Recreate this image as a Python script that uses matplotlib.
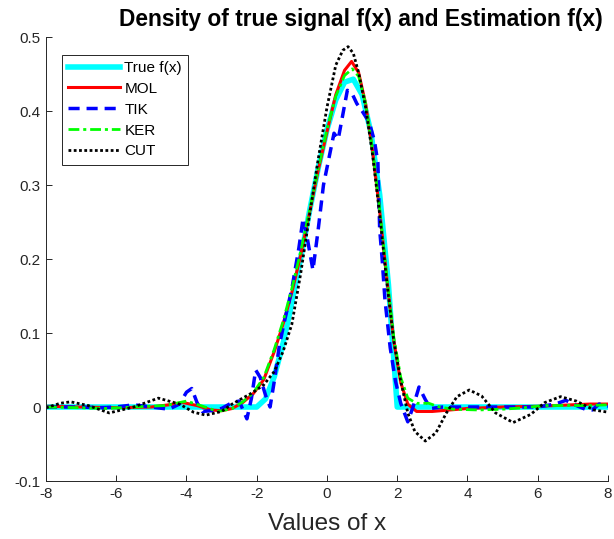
import matplotlib
matplotlib.use("Agg")
import matplotlib.pyplot as plt

# True f(x): compact support on [-2, 2]
true_x = [-8, -2, -1.75, -1.5, -1.25, -1.0, -0.75, -0.5, -0.25, 0, 0.25, 0.5,
          0.75, 1.0, 1.25, 1.5, 1.75, 2.0, 8]
true_y = [0, 0, 0.011, 0.041, 0.086, 0.141, 0.201, 0.264, 0.323, 0.375, 0.415,
          0.439, 0.443, 0.422, 0.371, 0.287, 0.165, 0, 0]

# MOL estimate
mol_x = [-8, -7, -6, -5, -4.5, -4.1, -3.7, -3.3, -3.0, -2.7, -2.4, -2.1, -1.8,
         -1.5, -1.25, -1.0, -0.75, -0.5, -0.25, 0, 0.25, 0.5, 0.7, 0.9, 1.1,
         1.3, 1.5, 1.7, 1.9, 2.1, 2.3, 2.55, 3.0, 3.5, 4.0, 5, 6, 7, 7.5, 8]
mol_y = [0.001, 0.0, -0.001, 0.0, 0.003, 0.006, 0.002, -0.004, -0.005, -0.002,
         0.006, 0.018, 0.037, 0.075, 0.112, 0.155, 0.205, 0.262, 0.32, 0.372,
         0.422, 0.455, 0.467, 0.452, 0.41, 0.345, 0.265, 0.175, 0.09, 0.033,
         0.004, -0.006, -0.006, -0.004, -0.002, 0.0, 0.001, 0.003, 0.004, 0.004]

# TIK estimate
tik_x = [-8, -7, -6.5, -6, -5.5, -5.0, -4.5, -4.2, -4.0, -3.85, -3.7, -3.55,
         -3.3, -3.0, -2.7, -2.5, -2.38, -2.28, -2.15, -2.03, -1.9, -1.75, -1.62,
         -1.5, -1.35, -1.2, -1.0, -0.8, -0.68, -0.55, -0.4, -0.25, -0.1, 0.05,
         0.2, 0.32, 0.45, 0.58, 0.7, 0.85, 1.0, 1.2, 1.35, 1.45, 1.5, 1.57,
         1.65, 1.8, 1.95, 2.1, 2.3, 2.45, 2.62, 2.8, 2.95, 3.3, 4, 5, 6, 6.5,
         6.8, 7.05, 7.35, 7.55, 7.75, 8]
tik_y = [0.0, 0.0, -0.001, 0.0, 0.003, 0.0, -0.003, 0.004, 0.02, 0.025, 0.006,
         -0.006, -0.005, -0.002, 0.006, 0.008, -0.005, -0.016, 0.012, 0.05,
         0.04, 0.016, 0.0, 0.035, 0.085, 0.118, 0.16, 0.215, 0.255, 0.225,
         0.185, 0.24, 0.3, 0.335, 0.37, 0.362, 0.395, 0.428, 0.425, 0.41, 0.40,
         0.385, 0.36, 0.33, 0.24, 0.2, 0.145, 0.08, 0.035, 0.005, -0.02, 0.0,
         0.027, 0.01, -0.002, 0.0, 0.0, 0.0, 0.0, 0.004, 0.009, 0.003, -0.003,
         -0.004, 0.004, 0.001]

# KER estimate
ker_x = [-8, -7, -6.3, -5.5, -4.6, -4.0, -3.6, -3.1, -2.7, -2.4, -2.1, -1.8,
         -1.5, -1.25, -1.0, -0.75, -0.5, -0.25, 0, 0.25, 0.5, 0.72, 0.9, 1.1,
         1.3, 1.5, 1.7, 1.9, 2.1, 2.3, 2.55, 2.9, 3.2, 3.6, 4.3, 5.0, 5.6, 6.2,
         7.0, 7.5, 8]
ker_y = [0.0, -0.001, -0.002, 0.0, 0.002, 0.008, 0.002, -0.006, -0.002, 0.007,
         0.019, 0.04, 0.078, 0.116, 0.16, 0.21, 0.265, 0.322, 0.375, 0.42,
         0.448, 0.457, 0.447, 0.41, 0.347, 0.267, 0.178, 0.095, 0.04, 0.012,
         0.005, 0.005, 0.0, -0.003, -0.004, -0.003, -0.001, 0.002, 0.002,
         0.002, 0.003]

# CUT estimate
cut_x = [-8, -7.6, -7.3, -6.8, -6.2, -5.5, -4.8, -4.2, -3.8, -3.45, -3.0, -2.7,
         -2.4, -2.1, -1.8, -1.5, -1.25, -1.0, -0.75, -0.5, -0.25, 0, 0.25, 0.45,
         0.6, 0.75, 0.9, 1.1, 1.3, 1.5, 1.7, 1.9, 2.1, 2.3, 2.5, 2.8, 3.1, 3.4,
         3.7, 4.05, 4.4, 4.8, 5.3, 5.8, 6.2, 6.65, 7.1, 7.6, 8]
cut_y = [-0.001, 0.005, 0.007, 0.002, -0.008, 0.0, 0.012, 0.004, -0.007,
         -0.011, -0.006, 0.004, 0.012, 0.02, 0.03, 0.048, 0.075, 0.112, 0.18,
         0.258, 0.335, 0.405, 0.462, 0.482, 0.487, 0.478, 0.452, 0.405, 0.34,
         0.26, 0.17, 0.09, 0.035, -0.008, -0.033, -0.046, -0.035, -0.008, 0.014,
         0.023, 0.015, -0.008, -0.021, -0.01, 0.006, 0.014, 0.008, -0.004,
         -0.007]

x_ticks = [-8, -6, -4, -2, 0, 2, 4, 6, 8]
y_ticks = [-0.1, 0, 0.1, 0.2, 0.3, 0.4, 0.5]
y_tick_labels = ["-0.1", "0", "0.1", "0.2", "0.3", "0.4", "0.5"]

plt.rcParams["font.family"] = ["Liberation Sans", "DejaVu Sans"]

fig = plt.figure(figsize=(6.14, 5.39), dpi=100)
ax = fig.add_axes([0.0749, 0.1076, 0.9153, 0.8237])

ax.plot(true_x, true_y, color="#00FFFF", linewidth=4.0, label="True f(x)")
ax.plot(mol_x, mol_y, color="#FF0000", linewidth=2.2, label="MOL")
ax.plot(tik_x, tik_y, color="#0000FF", linewidth=2.5,
        linestyle=(0, (3.2, 2.0)), label="TIK")
ax.plot(ker_x, ker_y, color="#00FF00", linewidth=2.0,
        linestyle=(0, (3.9, 1.4, 1.1, 1.4)), label="KER")
ax.plot(cut_x, cut_y, color="black", linewidth=2.0,
        linestyle=(0, (1.0, 0.9)), label="CUT")

ax.set_xlim(-8, 8)
ax.set_ylim(-0.1, 0.5)
ax.set_xticks(x_ticks)
ax.set_xticklabels([str(v) for v in x_ticks])
ax.set_yticks(y_ticks)
ax.set_yticklabels(y_tick_labels)

for side in ("top", "right"):
    ax.spines[side].set_visible(False)
for side in ("left", "bottom"):
    ax.spines[side].set_color("#262626")
    ax.spines[side].set_linewidth(0.7)
ax.tick_params(direction="in", length=4, width=0.7, colors="#262626",
               labelsize=11, pad=4)

ax.set_xlabel("Values of x", fontsize=17.5, color="#262626", labelpad=9)
ax.text(0.56, 1.013, "Density of true signal f(x) and Estimation f(x)",
        transform=ax.transAxes, ha="center", va="bottom",
        fontsize=16.4, fontweight="bold")

leg = ax.legend(loc="upper left", bbox_to_anchor=(0.028, 0.96),
                borderaxespad=0, fontsize=11, handlelength=3.4,
                handletextpad=0.3, labelspacing=0.45, fancybox=False,
                framealpha=1, borderpad=0.4)
leg.get_frame().set_edgecolor("#262626")
leg.get_frame().set_linewidth(0.7)

fig.savefig("out.png", dpi=100)
